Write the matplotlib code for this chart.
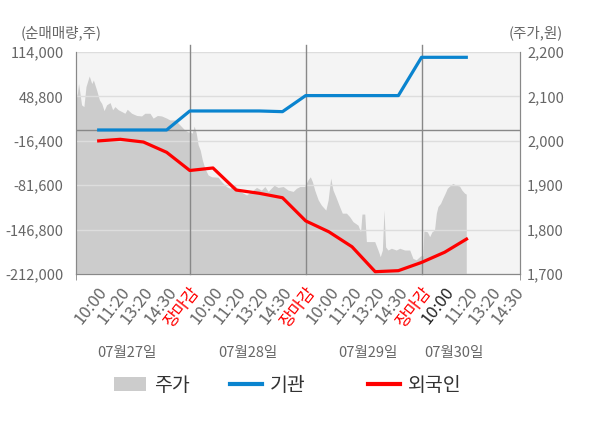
import numpy as np
import matplotlib
matplotlib.use('Agg')
import matplotlib.pyplot as plt
from matplotlib.patches import Patch
from matplotlib.lines import Line2D
import matplotlib.transforms as mtransforms

plt.rcParams['font.family'] = ['Noto Sans CJK KR', 'DejaVu Sans']

# ---- data ----
# price (gray area), x in time-slot units (1 slot = one tick label)
price_x = [0.09, 0.15, 0.20, 0.26, 0.33, 0.43, 0.52, 0.66, 0.77, 0.84, 0.98, 1.10, 1.20, 1.30,
           1.41, 1.56, 1.67, 1.77, 1.91, 2.06, 2.20, 2.30, 2.49, 2.71, 2.92, 3.06, 3.28, 3.42,
           3.60, 3.78, 4.00, 4.14, 4.36, 4.57, 4.79, 4.93,
           5.02, 5.10, 5.19, 5.28, 5.36, 5.45, 5.54, 5.65, 5.79, 5.94, 6.22, 6.37, 6.58, 6.73,
           6.94, 7.16, 7.45, 7.66, 7.88, 8.09, 8.24, 8.38, 8.64, 8.81, 9.03, 9.24, 9.46, 9.60,
           9.75, 9.96, 10.10, 10.20,
           10.29, 10.39, 10.54, 10.68, 10.87, 10.97, 11.08, 11.18, 11.30, 11.44, 11.58, 11.76,
           11.90, 12.04, 12.26, 12.37, 12.43, 12.55, 12.62, 12.98, 13.12, 13.22, 13.31, 13.38,
           13.45, 13.55, 13.70, 13.91, 14.06, 14.27, 14.49, 14.63, 14.77, 14.92,
           14.96, 15.06, 15.10, 15.25, 15.35, 15.45, 15.56, 15.64, 15.71, 15.82, 15.92, 16.02,
           16.11, 16.21, 16.35, 16.50, 16.64, 16.74, 16.86, 16.93]
price_y = [2096, 2107, 2129, 2107, 2081, 2077, 2122, 2146, 2129, 2137, 2114, 2092, 2084, 2068,
           2081, 2086, 2070, 2077, 2070, 2066, 2062, 2071, 2062, 2057, 2056, 2062, 2062, 2051,
           2057, 2056, 2051, 2047, 2047, 2036, 2024, 2020,
           2020, 2017, 2033, 2017, 1991, 1979, 1957, 1938, 1923, 1919, 1918, 1908, 1897, 1893,
           1900, 1886, 1878, 1886, 1895, 1889, 1897, 1886, 1900, 1895, 1897, 1889, 1886, 1893,
           1897, 1897, 1912, 1919,
           1908, 1889, 1867, 1855, 1844, 1867, 1916, 1889, 1874, 1855, 1837, 1837,
           1829, 1818, 1810, 1795, 1835, 1835, 1773, 1773, 1754, 1739, 1754, 1844,
           1761, 1754, 1758, 1754, 1758, 1754, 1754, 1735, 1732, 1739,
           1741, 1741, 1797, 1795, 1784, 1795, 1799, 1837, 1852, 1859, 1871, 1882,
           1893, 1898, 1904, 1900, 1898, 1889, 1882, 1880]

# net buying (lines), one point per tick slot
flow_x = list(range(1, 18))
inst = [-500, -500, -500, -500, 27400, 27400, 27400, 27400, 26400, 50000,
        50000, 50000, 50000, 50000, 106200, 106200, 106200]
foreign = [-16700, -14200, -18200, -33300, -60000, -56300, -88700, -93500, -100000, -134000,
           -150000, -172000, -208600, -207100, -195000, -180000, -159500]

time_labels = ['10:00', '11:20', '13:20', '14:30', '장마감',
               '10:00', '11:20', '13:20', '14:30', '장마감',
               '10:00', '11:20', '13:20', '14:30', '장마감',
               '10:00', '11:20', '13:20', '14:30']
day_labels = ['07월27일', '07월28일', '07월29일', '07월30일']
day_pos = [2.3, 7.5, 12.7, 16.4]

left_ticks = [-212000, -146800, -81600, -16400, 48800, 114000]
right_ticks = [1700, 1800, 1900, 2000, 2100, 2200]

gray_txt = '#666666'
axis_col = '#888888'

fig = plt.figure(figsize=(6, 4.28), dpi=100)
ax = fig.add_axes([0.1267, 0.3598, 0.74, 0.5187])
ax.set_facecolor('#f4f4f4')
ax2 = ax.twinx()

# price area on primary axis (ticks on right)
ax.fill_between(price_x, price_y, 1700, color='#cccccc', lw=0)
ax.set_ylim(1700, 2200)
ax.set_xlim(0.09, 19.25)

# flows on the twin axis (ticks on left)
ax2.set_ylim(-212000, 114000)
ax2.grid(axis='y', color='#dddddd', lw=1)
ax2.axhline(0, color=axis_col, lw=1)

# day boundaries
trans = mtransforms.blended_transform_factory(ax2.transData, ax2.transAxes)
for b in [5, 10, 15]:
    ax2.plot([b, b], [0, 1.032], color=axis_col, lw=1, transform=trans, clip_on=False)

ax2.plot(flow_x, inst, color='#0a84cf', lw=2.3, solid_capstyle='butt')
ax2.plot(flow_x, foreign, color='#ff0000', lw=2.3, solid_capstyle='butt')

ax.yaxis.set_ticks_position('right')
ax.set_yticks(right_ticks)
ax.set_yticklabels([f'{v:,}' for v in right_ticks])
ax.tick_params(axis='y', which='both', left=False, labelleft=False, right=False,
               labelright=True, length=0, pad=5, labelsize=10.5, colors=gray_txt)

ax2.yaxis.set_ticks_position('left')
ax2.set_yticks(left_ticks)
ax2.set_yticklabels([f'{v:,}' for v in left_ticks])
ax2.tick_params(axis='y', which='both', right=False, labelright=False, left=False,
                labelleft=True, length=0, pad=9, labelsize=10.5, colors=gray_txt)

for a in (ax, ax2):
    a.spines['top'].set_visible(False)
    for s in ('left', 'right', 'bottom'):
        a.spines[s].set_color(axis_col)

# x ticks
tick_pos = list(range(1, 20))
ax.set_xticks(tick_pos)
ax.set_xticklabels(time_labels, rotation=52, ha='right', rotation_mode='anchor')
ax.tick_params(axis='x', length=0, pad=7, labelsize=12, colors=gray_txt)
for i, lab in enumerate(ax.get_xticklabels()):
    if time_labels[i] == '장마감':
        lab.set_color('red')
    elif i == 15:
        lab.set_color('#222222')
ax.set_xticks([0.09, 5, 10, 15, 19.25], minor=True)
ax.tick_params(axis='x', which='minor', length=4, color=axis_col)

trans_day = mtransforms.blended_transform_factory(ax.transData, ax.transAxes)
for p, d in zip(day_pos, day_labels):
    ax.text(p, -0.356, d, transform=trans_day, ha='center', va='center',
            fontsize=10.5, color=gray_txt)

fig.text(0.102, 0.923, '(순매매량,주)', ha='center', va='center', fontsize=10.5, color=gray_txt)
fig.text(0.893, 0.923, '(주가,원)', ha='center', va='center', fontsize=10.5, color=gray_txt)

# legend: one entry per legend so the columns sit where the reference has them
handles = [Patch(facecolor='#cccccc', edgecolor='none'),
           Line2D([], [], color='#0a84cf', lw=3),
           Line2D([], [], color='#ff0000', lw=3)]
names = ['주가', '기관', '외국인']
for h, n, lx in zip(handles, names, [0.19, 0.383, 0.613]):
    fig.legend([h], [n], loc='center left', bbox_to_anchor=(lx, 0.10),
               frameon=False, fontsize=14, handlelength=1.65, handleheight=0.8,
               handletextpad=0.4, borderpad=0, borderaxespad=0, labelcolor='#333333')

fig.savefig('out.png', dpi=100)
